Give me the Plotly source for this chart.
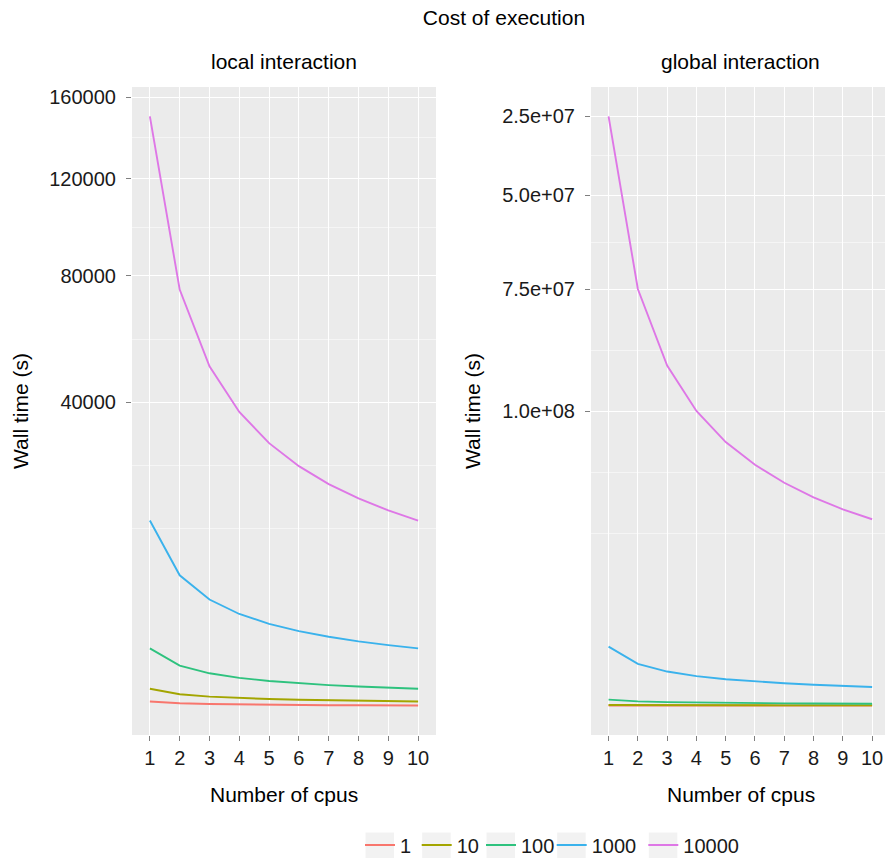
import math
import plotly.graph_objects as go

# ---------------- data ----------------
cpus = [1, 2, 3, 4, 5, 6, 7, 8, 9, 10]
sizes = ["1", "10", "100", "1000", "10000"]
colors = ["#F8766D", "#A3A500", "#2EC27E", "#3AB2EC", "#DE77E6"]

local_1 = [15, 7.5, 5, 3.75, 3, 2.5, 2.14, 1.88, 1.67, 1.5]
local_10 = [150, 75, 50, 37.5, 30, 25, 21.4, 18.8, 16.7, 15]
local_100 = [1500, 750, 500, 375, 300, 250, 214, 188, 167, 150]
local_1000 = [15000, 7500, 5000, 3750, 3000, 2500, 2143, 1875, 1667, 1500]
local_10000 = [150000, 75000, 50000, 37500, 30000, 25000, 21429, 18750, 16667, 15000]

global_1 = [1, 0.5, 0.33, 0.25, 0.2, 0.17, 0.14, 0.125, 0.11, 0.1]
global_10 = [100, 50, 33.3, 25, 20, 16.7, 14.3, 12.5, 11.1, 10]
global_100 = [10000, 5000, 3333, 2500, 2000, 1667, 1429, 1250, 1111, 1000]
global_1000 = [1000000, 500000, 333333, 250000, 200000, 166667, 142857, 125000, 111111, 100000]
global_10000 = [1e8, 5e7, 3.33e7, 2.5e7, 2e7, 1.67e7, 1.43e7, 1.25e7, 1.11e7, 1e7]

local_series = [local_1, local_10, local_100, local_1000, local_10000]
global_series = [global_1, global_10, global_100, global_1000, global_10000]

local_ticks = [40000, 80000, 120000, 160000]
local_ticktext = ["40000", "80000", "120000", "160000"]
global_ticks = [1e8, 7.5e7, 5e7, 2.5e7]
global_ticktext = ["2.5e+07", "5.0e+07", "7.5e+07", "1.0e+08"]

# ---------------- helpers (sqrt scale like ggplot) ----------------
def sq(v):
    return [math.sqrt(x) for x in v]

def expanded_range(series_list):
    vals = [math.sqrt(x) for s in series_list for x in s]
    lo, hi = min(vals), max(vals)
    pad = 0.05 * (hi - lo)
    return [lo - pad, hi + pad]

def minor_breaks(ticks):
    b = sorted(math.sqrt(t) for t in ticks)
    ext = [b[0] - (b[1] - b[0])] + b + [b[-1] + (b[-1] - b[-2])]
    out = []
    for i in range(len(ext) - 1):
        out.append((ext[i] + ext[i + 1]) / 2)
    out.append(ext[0])
    out.append(ext[-1])
    return out

W, H = 885, 858
PX_L, PX_R, PX_T, PX_B = 132, 885, 87, 735   # panel edges in px
L, R, T, B = PX_L, W - PX_R, PX_T, H - PX_B
pw = W - L - R
ph = H - T - B

def X(px):
    return (px - PX_L) / pw

def Y(py):
    return (PX_B - py) / ph

fig = go.Figure()
legend_names = ["legend", "legend2", "legend3", "legend4", "legend5"]
for i, (name, col) in enumerate(zip(sizes, colors)):
    fig.add_trace(go.Scatter(x=cpus, y=sq(local_series[i]), mode="lines", name=name,
                             line=dict(color=col, width=1.9), legendgroup=name,
                             legend=legend_names[i],
                             xaxis="x", yaxis="y", showlegend=True))
    fig.add_trace(go.Scatter(x=cpus, y=sq(global_series[i]), mode="lines", name=name,
                             line=dict(color=col, width=1.9), legendgroup=name,
                             xaxis="x2", yaxis="y2", showlegend=False))

font = "Liberation Sans, Arial, Helvetica, sans-serif"
panel_bg = "#EBEBEB"
tick_font = dict(size=20, color="#1A1A1A", family=font)

x1dom = [0, X(436)]
x2dom = [X(591), 1]

common_x = dict(tickmode="array", tickvals=cpus, ticktext=[str(c) for c in cpus],
                showgrid=True, gridcolor="white", gridwidth=1.2, zeroline=False,
                showline=False, ticks="outside", ticklen=5, tickcolor="#7F7F7F",
                tickfont=tick_font)
common_y = dict(tickmode="array", showgrid=True, gridcolor="white", gridwidth=1.2,
                zeroline=False, showline=False, ticks="outside", ticklen=5,
                tickcolor="#7F7F7F", tickfont=tick_font, ticklabelstandoff=6)

layout = dict(
    width=W, height=H,
    margin=dict(l=L, r=R, t=T, b=B, autoexpand=False),
    paper_bgcolor="white", plot_bgcolor=panel_bg,
    font=dict(family=font, color="black"),
    xaxis=dict(domain=x1dom, range=[0.4, 10.6], anchor="y", **common_x),
    xaxis2=dict(domain=x2dom, range=[0.4, 10.44], anchor="y2", **common_x),
    yaxis=dict(domain=[0, 1], anchor="x", range=expanded_range(local_series),
               tickvals=sq(local_ticks), ticktext=local_ticktext,
               minor=dict(tickmode="array", tickvals=minor_breaks(local_ticks), showgrid=True,
                          gridcolor="#F5F5F5", gridwidth=0.6, ticklen=0),
               **common_y),
    yaxis2=dict(domain=[0, 1], anchor="x2", range=expanded_range(global_series),
                tickvals=sq(global_ticks), ticktext=global_ticktext,
                minor=dict(tickmode="array", tickvals=minor_breaks(global_ticks), showgrid=True,
                           gridcolor="#F5F5F5", gridwidth=0.6, ticklen=0),
                **common_y),
    title=dict(text="Cost of execution", x=X(504), xref="paper", xanchor="center",
               y=1 - 18 / H, yref="container", yanchor="middle",
               font=dict(size=21, family=font, color="black")),
)

# one legend per entry so each key sits where ggplot put it
label_starts = [400, 456.7, 521, 591.7, 683.3]
legend_cy = 845
for i, lname in enumerate(legend_names):
    origin = label_starts[i] - 40
    layout[lname] = dict(orientation="h", x=X(origin), xanchor="left",
                         y=Y(legend_cy), yanchor="middle", borderwidth=0,
                         font=dict(size=20, family=font, color="#1A1A1A"),
                         bgcolor="rgba(0,0,0,0)", itemwidth=30)
    fig.add_shape(type="rect", xref="paper", yref="paper",
                  x0=X(origin + 5.5), x1=X(origin + 34), y0=Y(858), y1=Y(832.5),
                  fillcolor="#F2F2F2", line=dict(width=0), layer="below")

fig.update_layout(**layout)

def ann(text, x, y, size=21, **kw):
    fig.add_annotation(text=text, x=x, y=y, xref="paper", yref="paper", showarrow=False,
                       font=dict(size=size, family=font, color="black"), **kw)

ann("local interaction", X(284), Y(61), xanchor="center", yanchor="middle")
ann("global interaction", X(740.5), Y(61), xanchor="center", yanchor="middle")
ann("Number of cpus", X(284), Y(794), xanchor="center", yanchor="middle")
ann("Number of cpus", X(740.5), Y(794), xanchor="center", yanchor="middle")
ann("Wall time (s)", X(20), 0.5, xanchor="center", yanchor="middle", textangle=-90)
ann("Wall time (s)", X(472), 0.5, xanchor="center", yanchor="middle", textangle=-90)

fig.write_html("out.html", config={"displayModeBar": False},
               post_script="document.body.style.margin='0';"
                           "document.body.style.overflow='hidden';")
